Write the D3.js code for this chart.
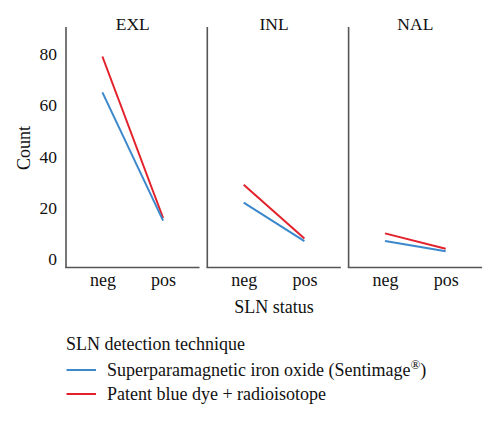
<!DOCTYPE html>
<html>
<head>
<meta charset="utf-8">
<script src="https://cdn.jsdelivr.net/npm/d3@7"></script>
<style>
  body { margin: 0; background: #fff; }
  svg { display: block; }
  text { font-family: "Liberation Serif", "DejaVu Serif", serif; }
</style>
</head>
<body>
<svg id="chart" width="500" height="421"></svg>
<script>
// ---- data ----
const panels = ["EXL", "INL", "NAL"];
const statuses = ["neg", "pos"];
const seriesNames = ["Superparamagnetic iron oxide (Sentimage®)", "Patent blue dye + radioisotope"];
const sentimageValues = { EXL: [65, 15], INL: [22, 7], NAL: [7, 3] };
const blueDyeValues   = { EXL: [79, 16], INL: [29, 8], NAL: [10, 4] };
const yTicks = [0, 20, 40, 60, 80];
const colors = ["#3b88cc", "#e3212b"];

const FONT = "Liberation Serif";
const svg = d3.select("#chart");
const panelW = 133.5, gap = 7.8, left0 = 66;
const plotTop = 27, plotBottom = 267.5;

const y = d3.scaleLinear().domain([-3.3, 90.5]).range([plotBottom, plotTop]);
const xPanel = d3.scaleBand().domain(panels).range([left0, left0 + 3 * panelW + 2 * gap]).paddingInner(gap / (panelW + gap)).paddingOuter(0);
const x = d3.scalePoint().domain(statuses).range([0, xPanel.bandwidth()]).padding(0.6);

const axisColor = "#555";
const seriesData = [sentimageValues, blueDyeValues];

function txt(sel) { return sel.attr("font-family", FONT).attr("fill", "#111"); }

panels.forEach(p => {
  const g = svg.append("g").attr("transform", `translate(${xPanel(p)},0)`);
  g.append("line").attr("x1", 0).attr("x2", 0).attr("y1", plotTop).attr("y2", plotBottom)
    .attr("stroke", axisColor).attr("stroke-width", 1.6);
  g.append("line").attr("x1", -0.8).attr("x2", xPanel.bandwidth()).attr("y1", plotBottom).attr("y2", plotBottom)
    .attr("stroke", axisColor).attr("stroke-width", 1.6);
  txt(g.append("text")).attr("x", xPanel.bandwidth() / 2).attr("y", 30)
    .attr("text-anchor", "middle").attr("font-size", 17.5).text(p);
  const xa = d3.axisBottom(x).tickSize(0).tickPadding(0);
  const xg = g.append("g").attr("transform", `translate(0,${plotBottom})`).call(xa);
  xg.attr("font-family", FONT);
  xg.select(".domain").remove();
  txt(xg.selectAll("text")).attr("font-size", 18).attr("dy", null).attr("y", 18.5);
  const line = d3.line().x(d => x(d.s)).y(d => y(d.v));
  [1, 0].forEach(si => {
    const pts = statuses.map((s, i) => ({ s, v: seriesData[si][p][i] }));
    g.append("path").datum(pts).attr("d", line).attr("fill", "none")
      .attr("stroke", colors[si]).attr("stroke-width", 2);
  });
});

const ya = d3.axisLeft(y).tickValues(yTicks).tickSize(0).tickPadding(9);
const yg = svg.append("g").attr("transform", `translate(${left0},0)`).call(ya);
yg.attr("font-family", FONT);
yg.select(".domain").remove();
txt(yg.selectAll("text")).attr("font-size", 17.5);

txt(svg.append("text")).attr("transform", "translate(30,148) rotate(-90)")
  .attr("text-anchor", "middle").attr("font-size", 18).text("Count");
txt(svg.append("text")).attr("x", 274).attr("y", 313)
  .attr("text-anchor", "middle").attr("font-size", 18).text("SLN status");

const lg = svg.append("g");
txt(lg.append("text")).attr("x", 66).attr("y", 350).attr("font-size", 18).text("SLN detection technique");
const legY = [370, 394];
seriesNames.forEach((n, i) => {
  lg.append("line").attr("x1", 66.5).attr("x2", 96).attr("y1", legY[i]).attr("y2", legY[i])
    .attr("stroke", colors[i]).attr("stroke-width", 2);
  const t = txt(lg.append("text")).attr("x", 107).attr("y", legY[i] + 5.5).attr("font-size", 18);
  if (i === 0) {
    t.append("tspan").text("Superparamagnetic iron oxide (Sentimage");
    t.append("tspan").attr("font-size", 13).attr("dy", -7).text("®");
    t.append("tspan").attr("dy", 7).text(")");
  } else {
    t.text(n);
  }
});
</script>
</body>
</html>
